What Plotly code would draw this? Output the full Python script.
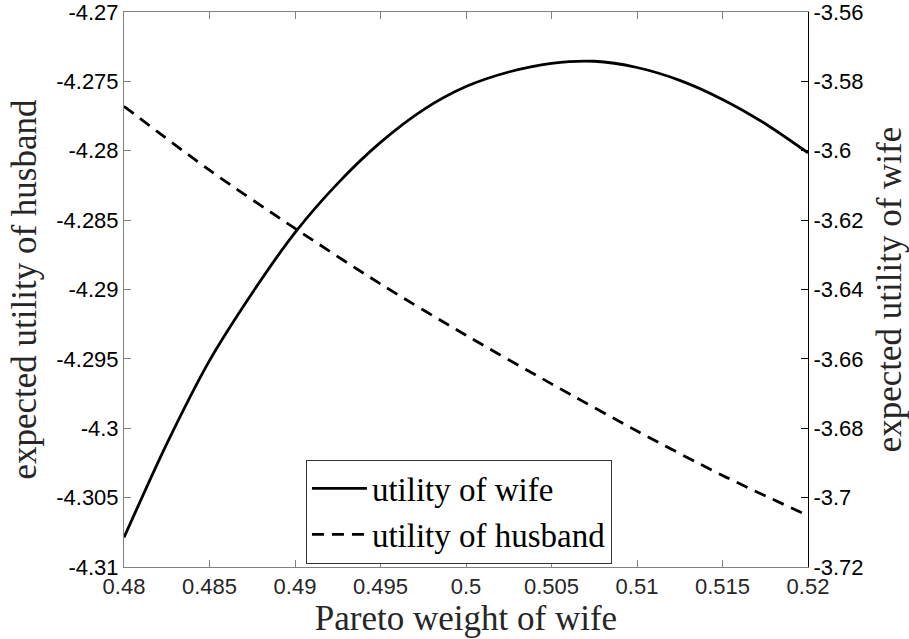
import plotly.graph_objects as go

# Data
pareto_weight_wife = [0.48, 0.4825, 0.485, 0.4875, 0.49, 0.4925, 0.495, 0.4975, 0.5,
                      0.5025, 0.505, 0.5075, 0.51, 0.5125, 0.515, 0.5175, 0.52]
utility_wife = [-3.7115, -3.6845, -3.6605, -3.6410, -3.6236, -3.6094, -3.5976, -3.5882, -3.5815,
                -3.5773, -3.5748, -3.5742, -3.5760, -3.5797, -3.5852, -3.5922, -3.6006]

pareto_weight_h = [0.48, 0.485, 0.49, 0.495, 0.5, 0.505, 0.51, 0.515, 0.52]
utility_husband = [-4.2768, -4.2814, -4.2856, -4.2896, -4.2933, -4.2968, -4.3002, -4.3034, -4.3063]

x_ticks = [0.48, 0.485, 0.49, 0.495, 0.5, 0.505, 0.51, 0.515, 0.52]
x_ticktext = ["0.48", "0.485", "0.49", "0.495", "0.5", "0.505", "0.51", "0.515", "0.52"]
left_ticks = [-4.31, -4.305, -4.3, -4.295, -4.29, -4.285, -4.28, -4.275, -4.27]
left_ticktext = ["-4.31", "-4.305", "-4.3", "-4.295", "-4.29", "-4.285", "-4.28", "-4.275", "-4.27"]
right_ticks = [-3.72, -3.7, -3.68, -3.66, -3.64, -3.62, -3.6, -3.58, -3.56]
right_ticktext = ["-3.72", "-3.7", "-3.68", "-3.66", "-3.64", "-3.62", "-3.6", "-3.58", "-3.56"]

SERIF = "Liberation Serif, Times New Roman, serif"
SANS = "Liberation Sans, Arial, Helvetica, sans-serif"
GRAY = "#808080"
EPS = 1e-7

fig = go.Figure()
fig.add_trace(go.Scatter(
    x=pareto_weight_wife, y=utility_wife, name="utility of wife", yaxis="y2",
    mode="lines", line=dict(color="black", width=2.8, shape="spline", smoothing=0.8),
))
fig.add_trace(go.Scatter(
    x=pareto_weight_h, y=utility_husband, name="utility of husband", yaxis="y",
    mode="lines", line=dict(color="black", width=2.8, dash="12px,8px", shape="spline", smoothing=0.8),
))

fig.update_layout(
    width=909, height=639,
    margin=dict(l=124, r=101, t=12, b=72, autoexpand=False),
    paper_bgcolor="white", plot_bgcolor="white",
    showlegend=True,
    legend=dict(
        x=0.266, y=0.1, xanchor="left", yanchor="middle",
        bgcolor="white", bordercolor="#333333", borderwidth=1,
        font=dict(family=SERIF, size=33, color="black"),
        tracegroupgap=0, itemwidth=55,
    ),
    xaxis=dict(
        range=[0.48 - EPS * 0.01, 0.52 + EPS * 0.01], tickvals=x_ticks, ticktext=x_ticktext,
        ticks="inside", ticklen=7, tickcolor=GRAY, tickwidth=1,
        showline=True, linecolor=GRAY, linewidth=1, mirror="ticks",
        showgrid=False, zeroline=False, ticklabeloverflow="allow",
        tickfont=dict(family=SANS, size=22, color="#262626"),
        title=dict(text="Pareto weight of wife", standoff=4,
                   font=dict(family=SERIF, size=35, color="#262626")),
    ),
    yaxis=dict(
        range=[-4.31 - EPS, -4.27 + EPS], tickvals=left_ticks, ticktext=left_ticktext,
        ticks="inside", ticklen=7, tickcolor=GRAY, tickwidth=1,
        showline=True, linecolor=GRAY, linewidth=1,
        showgrid=False, zeroline=False, ticklabeloverflow="allow",
        tickfont=dict(family=SANS, size=22, color="black"),
        title=dict(text="expected utility of husband", standoff=8,
                   font=dict(family=SERIF, size=35, color="#262626")),
    ),
    yaxis2=dict(
        range=[-3.72 - EPS, -3.56 + EPS], tickvals=right_ticks, ticktext=right_ticktext,
        overlaying="y", side="right", anchor="x",
        ticks="inside", ticklen=7, tickcolor="black", tickwidth=1,
        showline=True, linecolor="black", linewidth=1,
        showgrid=False, zeroline=False, ticklabeloverflow="allow",
        tickfont=dict(family=SANS, size=22, color="black"),
        title=dict(text="expected utility of wife", standoff=21,
                   font=dict(family=SERIF, size=35, color="#262626")),
    ),
)

fig.write_html("out.html")
